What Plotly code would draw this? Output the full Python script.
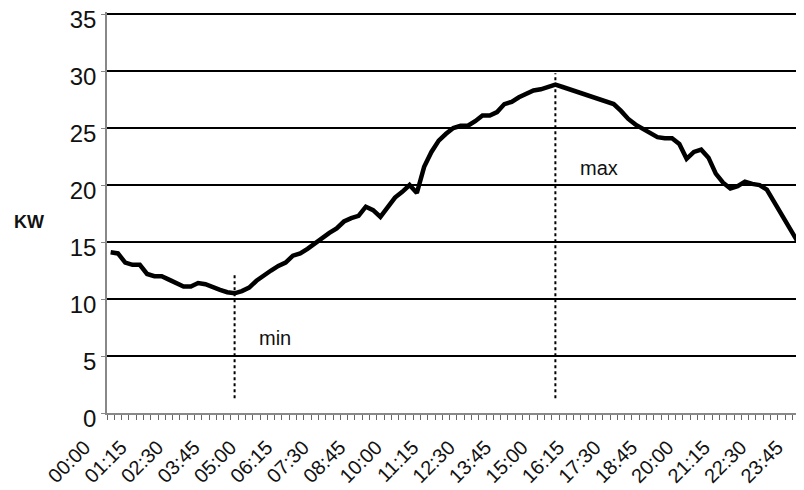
import plotly.graph_objects as go

# 15-minute time slots, 00:00 .. 23:45
TIMES = [f"{h:02d}:{m:02d}" for h in range(24) for m in (0, 15, 30, 45)]

TICK_LABELS = ["00:00", "01:15", "02:30", "03:45", "05:00", "06:15", "07:30",
               "08:45", "10:00", "11:15", "12:30", "13:45", "15:00", "16:15",
               "17:30", "18:45", "20:00", "21:15", "22:30", "23:45"]

KW = [14.1, 14.0, 13.2, 13.0, 13.0, 12.2, 12.0, 12.0, 11.7, 11.4,
      11.1, 11.1, 11.4, 11.3, 11.0, 10.8, 10.6, 10.5, 10.7, 11.0,
      11.6, 12.1, 12.5, 12.9, 13.2, 13.8, 14.0, 14.4, 14.9, 15.3,
      15.8, 16.2, 16.8, 17.1, 17.3, 18.1, 17.8, 17.2, 18.0, 18.9,
      19.4, 20.0, 19.3, 21.6, 22.9, 23.9, 24.5, 25.0, 25.2, 25.2,
      25.6, 26.1, 26.1, 26.4, 27.1, 27.3, 27.7, 28.0, 28.3, 28.4,
      28.6, 28.8, 28.6, 28.4, 28.2, 28.0, 27.8, 27.6, 27.4, 27.1,
      26.5, 25.8, 25.3, 24.9, 24.5, 24.2, 24.1, 24.1, 23.6, 22.3,
      22.9, 23.1, 22.4, 21.0, 20.2, 19.7, 19.9, 20.3, 20.1, 20.0,
      19.6, 18.5, 17.4, 16.3, 15.2, 14.2]

Y_TICKS = [0, 5, 10, 15, 20, 25, 30, 35]

x = list(range(len(TIMES)))
i_min = min(range(len(KW)), key=lambda i: KW[i])
i_max = max(range(len(KW)), key=lambda i: KW[i])

FONT = "Liberation Sans"

fig = go.Figure()

# dotted markers for min / max
fig.add_trace(go.Scatter(x=[i_min, i_min], y=[1.3, KW[i_min] + 1.7], mode="lines",
                         line=dict(color="black", width=2, dash="dot"),
                         hoverinfo="skip", showlegend=False))
fig.add_trace(go.Scatter(x=[i_max, i_max], y=[1.3, KW[i_max] + 1.0], mode="lines",
                         line=dict(color="black", width=2, dash="dot"),
                         hoverinfo="skip", showlegend=False))

fig.add_trace(go.Scatter(x=x, y=KW, mode="lines", text=TIMES,
                         line=dict(color="black", width=4.5),
                         showlegend=False))

fig.add_annotation(x=i_min + 5.5, y=6.6, text="min", showarrow=False,
                   font=dict(family=FONT, size=20, color="#111"))
fig.add_annotation(x=i_max + 6.0, y=21.5, text="max", showarrow=False,
                   font=dict(family=FONT, size=20, color="#111"))
fig.add_annotation(xref="paper", x=-0.137, y=16.8, text="<b>KW</b>", showarrow=False,
                   xanchor="left", font=dict(family=FONT, size=18, color="#111"))

# the page body has an 8px margin, so the figure is sized to fit the 804x490 window
fig.update_layout(
    width=796, height=482,
    margin=dict(l=99, r=0, t=4, b=77, autoexpand=False),
    paper_bgcolor="white", plot_bgcolor="white",
    font=dict(family=FONT, color="#111"),
)

fig.update_xaxes(
    range=[-0.5, 95.1],
    automargin=False,
    tickmode="array",
    tickvals=[TIMES.index(t) for t in TICK_LABELS],
    ticktext=TICK_LABELS,
    tickangle=-45,
    ticks="", ticklen=0,
    ticklabelstandoff=13, ticklabelshift=-26,
    tickfont=dict(family=FONT, size=20, color="#111"),
    showgrid=False, zeroline=False,
    showline=True, linecolor="#888", linewidth=1.5,
    minor=dict(tick0=-0.5, dtick=1, ticks="outside", ticklen=5,
               tickcolor="#666", tickwidth=1, showgrid=False),
)

fig.update_yaxes(
    range=[0, 35.18],
    automargin=False,
    tickmode="array", tickvals=Y_TICKS,
    ticks="outside", ticklen=4, tickcolor="#888",
    ticklabelshift=6, ticklabeloverflow="allow",
    tickfont=dict(family=FONT, size=24, color="#111"),
    showgrid=True, gridcolor="black", gridwidth=2,
    zeroline=False,
    showline=True, linecolor="#888", linewidth=1.5,
)

fig.write_html("out.html")
